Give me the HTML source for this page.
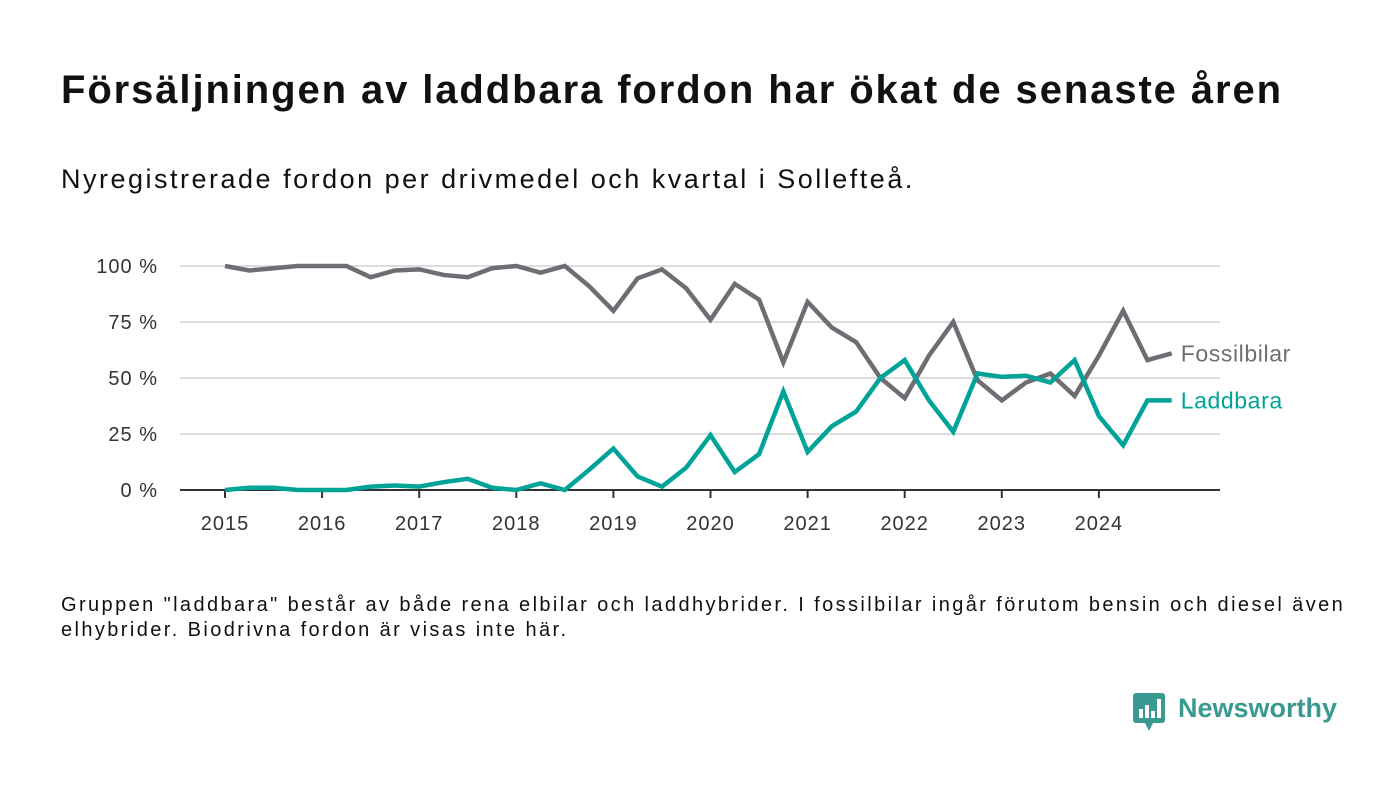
<!DOCTYPE html>
<html><head><meta charset="utf-8"><style>
body{margin:0;background:#fff;font-family:"Liberation Sans","DejaVu Sans",sans-serif;}
#wrap{position:relative;width:1400px;height:793px;overflow:hidden;}
h1{position:absolute;left:61px;top:68px;margin:0;font-size:40px;font-weight:bold;color:#111;letter-spacing:1.9px;white-space:nowrap}
.sub{position:absolute;left:61px;top:164px;font-size:27px;color:#111;letter-spacing:2.5px;white-space:nowrap}
.note{position:absolute;left:61px;top:593px;font-size:20px;line-height:25px;color:#111;letter-spacing:2.4px;white-space:nowrap}
</style></head><body>
<div id="wrap">
<h1>Försäljningen av laddbara fordon har ökat de senaste åren</h1>
<div class="sub">Nyregistrerade fordon per drivmedel och kvartal i Sollefteå.</div>
<svg id="chart" width="1400" height="793" style="position:absolute;left:0;top:0"></svg>
<div class="note">Gruppen "laddbara" består av både rena elbilar och laddhybrider. I fossilbilar ingår förutom bensin och diesel även<br>elhybrider. Biodrivna fordon är visas inte här.</div>
<div style="position:absolute;left:1133px;top:693px;">
<svg width="34" height="40"><rect x="0" y="0" width="32" height="30" rx="3" fill="#3a9a92"/><polygon points="12,30 20,30 16,38" fill="#3a9a92"/><rect x="6" y="16" width="4" height="9" fill="#fff"/><rect x="12" y="12" width="4" height="13" fill="#fff"/><rect x="18" y="18" width="4" height="7" fill="#fff"/><rect x="24" y="6" width="4" height="19" fill="#fff"/></svg>
<span style="position:absolute;left:45px;top:0px;font-size:27px;font-weight:bold;color:#3a9a92;white-space:nowrap">Newsworthy</span>
</div>
</div>
<script>
const years=["2015","2016","2017","2018","2019","2020","2021","2022","2023","2024"];
const yTicks=[0,25,50,75,100];
const fossil=[100,98,99,100,100,100,95,98,98.5,96,95,99,100,97,100,91,80,94.5,98.5,90,76,92,85,57,84,72.5,66,50,41,60,75,49,40,48,52,42,60,80,58,61];
const laddbara=[0,1,1,0,0,0,1.5,2,1.5,3.5,5,1,0,3,0,9,18.5,6,1.5,10,24.5,8,16,44,17,28.5,35,50,58,40,26,52,50.5,51,48,58,33,20,40,40];
const NS="http://www.w3.org/2000/svg";
const svg=document.getElementById('chart');
const x0=225,yearW=97.1,yb=490,yt=266;
const xs=i=>x0+i*yearW/4;
const ys=v=>yb-(v/100)*(yb-yt);
function mk(t,a){const e=document.createElementNS(NS,t);for(const k in a)e.setAttribute(k,a[k]);svg.appendChild(e);return e;}
yTicks.forEach(v=>{
  if(v>0){const g=mk('line',{x1:180,x2:1220,y1:ys(v),y2:ys(v),stroke:'#ddd','stroke-width':2});
  
  }
  const t=mk('text',{x:158,y:ys(v)+7,'text-anchor':'end','font-size':20,fill:'#333','letter-spacing':1,'font-family':'Liberation Sans, sans-serif'});
  t.textContent=v+' %';
  
  
});
const ax=mk('line',{x1:180,x2:1220,y1:yb,y2:yb,stroke:'#333','stroke-width':2});


years.forEach((y,i)=>{
  const x=xs(i*4);
  const tk=mk('line',{x1:x,x2:x,y1:yb,y2:yb+8,stroke:'#333','stroke-width':2});
  
  
  const t=mk('text',{x:x,y:530,'text-anchor':'middle','font-size':20,fill:'#333','letter-spacing':1,'font-family':'Liberation Sans, sans-serif'});
  t.textContent=y;
  
  
});
function line(d,c,name,label){
  const p=mk('polyline',{points:d.map((v,i)=>xs(i)+','+ys(v)).join(' '),fill:'none',stroke:c,'stroke-width':4.5,'stroke-linejoin':'miter'});
  
  
  const t=mk('text',{x:xs(d.length-1)+9,y:ys(d[d.length-1])+8,'font-size':23,fill:c,'letter-spacing':0.6,'font-family':'Liberation Sans, sans-serif'});
  t.textContent=label;
  
  
}
line(fossil,'#6e6d73','fossilbilar','Fossilbilar');
line(laddbara,'#00a398','laddbara','Laddbara');
</script>
</body></html>
